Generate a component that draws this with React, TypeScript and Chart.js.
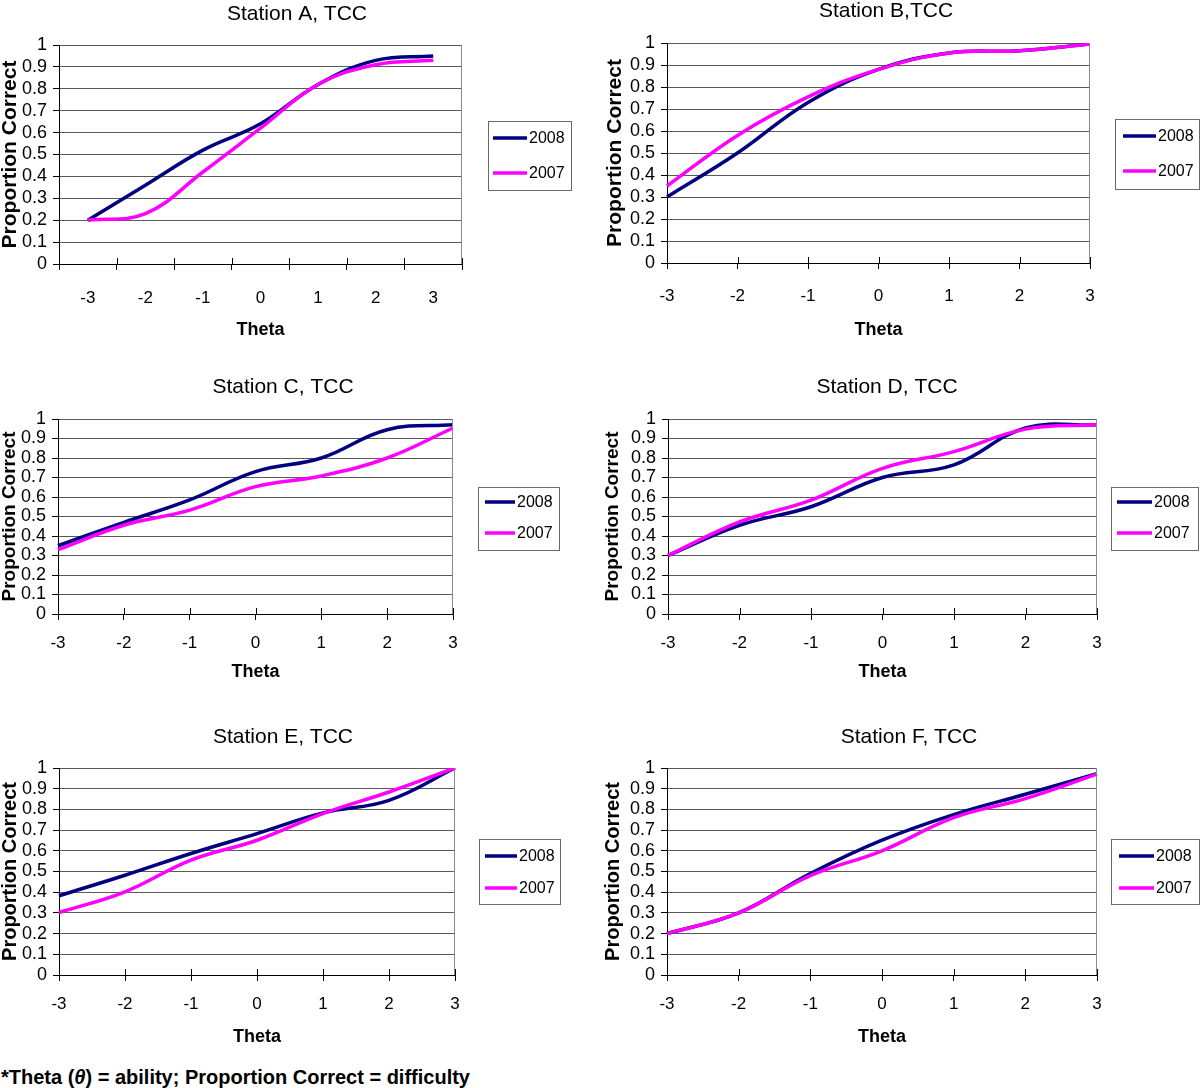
import React, { useEffect, useRef } from 'react';
import { Chart, registerables } from 'chart.js';

Chart.register(...registerables);

// ---------- data ----------
const thetaLabels = ['-3', '-2', '-1', '0', '1', '2', '3'];
const yTickValues = [0, 0.1, 0.2, 0.3, 0.4, 0.5, 0.6, 0.7, 0.8, 0.9, 1];
const seriesNames = ['2008', '2007'];
const seriesColors = ['#000080', '#FF00FF'];
const stationTitles = ['Station A, TCC', 'Station B,TCC', 'Station C, TCC', 'Station D, TCC', 'Station E, TCC', 'Station F, TCC'];

const stationA2008 = [0.2, 0.36, 0.52, 0.64, 0.82, 0.93, 0.95];
const stationA2007 = [0.2, 0.23, 0.42, 0.62, 0.82, 0.91, 0.93];
const stationB2008 = [0.3, 0.5, 0.73, 0.88, 0.955, 0.965, 0.995];
const stationB2007 = [0.35, 0.58, 0.755, 0.88, 0.955, 0.965, 0.995];
const stationC2008 = [0.35, 0.47, 0.585, 0.73, 0.8, 0.945, 0.97];
const stationC2007 = [0.33, 0.455, 0.533, 0.653, 0.708, 0.8, 0.954];
const stationD2008 = [0.3, 0.455, 0.55, 0.7, 0.765, 0.954, 0.97];
const stationD2007 = [0.3, 0.472, 0.584, 0.747, 0.833, 0.948, 0.97];
const stationE2008 = [0.383, 0.482, 0.587, 0.683, 0.783, 0.844, 1.0];
const stationE2007 = [0.302, 0.402, 0.555, 0.651, 0.78, 0.884, 1.0];
const stationF2008 = [0.2, 0.3, 0.49, 0.651, 0.775, 0.873, 0.973];
const stationF2007 = [0.2, 0.3, 0.48, 0.6, 0.76, 0.852, 0.97];

const stationSeries = [
  [stationA2008, stationA2007],
  [stationB2008, stationB2007],
  [stationC2008, stationC2007],
  [stationD2008, stationD2007],
  [stationE2008, stationE2007],
  [stationF2008, stationF2007],
];

// ---------- layout (page coordinates) ----------
const FONT = '"Liberation Sans", Arial, sans-serif';

type Layout = {
  box: number[]; // canvas x, y, w, h
  area: number[]; // chart area l, t, r, b
  offset: boolean;
  titleAt: number[];
  legend: number[]; // l, t, r, b
  rows: number[];
  line: number[];
  textX: number;
  tickPad: number;
  thetaPad: number;
  yTitlePad: number;
  yTitleSize: number;
};

const layouts: Layout[] = [
  { box: [0, 0, 600, 350], area: [59, 45, 462, 264], offset: true, titleAt: [297, 14], legend: [488, 121, 571, 190], rows: [138, 173], line: [493, 527], textX: 529, tickPad: 18, thetaPad: 11, yTitlePad: 0, yTitleSize: 21 },
  { box: [600, 0, 600, 350], area: [667, 43, 1090, 263], offset: false, titleAt: [886, 11], legend: [1115, 119, 1199, 189], rows: [136, 171], line: [1123, 1156], textX: 1158, tickPad: 17, thetaPad: 11, yTitlePad: 4.5, yTitleSize: 21 },
  { box: [0, 370, 600, 320], area: [58, 419, 453, 614], offset: false, titleAt: [283, 387], legend: [478, 487, 559, 550], rows: [502, 533], line: [485, 515], textX: 517, tickPad: 13, thetaPad: 9, yTitlePad: 0, yTitleSize: 19 },
  { box: [600, 370, 600, 320], area: [668, 419, 1097, 614], offset: false, titleAt: [887, 387], legend: [1111, 487, 1198, 550], rows: [502, 533], line: [1117, 1152], textX: 1154, tickPad: 13, thetaPad: 9, yTitlePad: 3.5, yTitleSize: 19 },
  { box: [0, 720, 600, 340], area: [59, 768, 455, 975], offset: false, titleAt: [283, 737], legend: [479, 839, 560, 904], rows: [856, 888], line: [485, 517], textX: 519, tickPad: 13, thetaPad: 14, yTitlePad: 0, yTitleSize: 20 },
  { box: [600, 720, 600, 340], area: [667, 768, 1097, 975], offset: false, titleAt: [909, 737], legend: [1111, 839, 1199, 904], rows: [856, 888], line: [1119, 1154], textX: 1156, tickPad: 13, thetaPad: 14, yTitlePad: 3.5, yTitleSize: 20 },
];

function Panel({ idx }: { idx: number }) {
  const ref = useRef<HTMLCanvasElement | null>(null);
  const lay = layouts[idx];
  const [bx, by, bw, bh] = lay.box;

  useEffect(() => {
    if (!ref.current) return;
    const L = lay.area[0] - bx;
    const T = lay.area[1] - by;
    const R = lay.area[2] - bx;
    const B = lay.area[3] - by;
    const title = stationTitles[idx];

    const decor = {
      id: 'panelDecor',
      afterDraw(chart: any) {
        const ctx = chart.ctx as CanvasRenderingContext2D;
        const a = chart.chartArea;
        ctx.save();
        // right border of plot area
        ctx.strokeStyle = '#8a8a8a';
        ctx.lineWidth = 1;
        const rx = Math.round(a.right) - 0.5;
        ctx.beginPath();
        ctx.moveTo(rx, a.top);
        ctx.lineTo(rx, a.bottom);
        ctx.stroke();
        // cross tick marks above x axis
        const xs = chart.scales.x;
        const n = thetaLabels.length;
        const positions: number[] = [];
        if (lay.offset) {
          const step = (a.right - a.left) / n;
          for (let k = 0; k <= n; k++) positions.push(a.left + k * step);
        } else {
          for (let k = 0; k < n; k++) positions.push(xs.getPixelForTick(k));
        }
        ctx.strokeStyle = '#000';
        ctx.lineWidth = 1;
        positions.forEach((px) => {
          const x = Math.round(px) + 0.5;
          ctx.beginPath();
          ctx.moveTo(x, a.bottom - 6);
          ctx.lineTo(x, a.bottom);
          ctx.stroke();
        });
        // title
        ctx.fillStyle = '#000';
        ctx.font = `21px ${FONT}`;
        ctx.textAlign = 'center';
        ctx.textBaseline = 'middle';
        ctx.fillText(title, lay.titleAt[0] - bx, lay.titleAt[1] - by);
        // legend
        const [ll, lt, lr, lb] = lay.legend;
        ctx.fillStyle = '#fff';
        ctx.fillRect(ll - bx, lt - by, lr - ll, lb - lt);
        ctx.strokeStyle = '#6a6a6a';
        ctx.lineWidth = 1;
        ctx.strokeRect(ll - bx + 0.5, lt - by + 0.5, lr - ll, lb - lt);
        ctx.font = `16px ${FONT}`;
        ctx.textAlign = 'left';
        ctx.textBaseline = 'middle';
        chart.data.datasets.forEach((ds: any, i: number) => {
          const y = lay.rows[i] - by;
          ctx.strokeStyle = ds.borderColor;
          ctx.lineWidth = 3.5;
          ctx.beginPath();
          ctx.moveTo(lay.line[0] - bx, y);
          ctx.lineTo(lay.line[1] - bx, y);
          ctx.stroke();
          ctx.fillStyle = '#000';
          ctx.fillText(ds.label, lay.textX - bx, y + 1);
        });
        ctx.restore();
      },
    };

    const chart = new Chart(ref.current, {
      type: 'line',
      data: {
        labels: thetaLabels,
        datasets: seriesNames.map((name, i) => ({
          label: name,
          data: stationSeries[idx][i],
          borderColor: seriesColors[i],
          backgroundColor: seriesColors[i],
          borderWidth: 3.5,
          pointRadius: 0,
          pointHoverRadius: 0,
          tension: 0.4,
          fill: false,
          order: i === 0 ? 1 : 0,
        })),
      },
      options: {
        responsive: false,
        animation: false,
        events: [],
        layout: { autoPadding: false, padding: { left: 0, top: T, right: bw - R, bottom: 0 } },
        plugins: {
          legend: { display: false },
          title: { display: false },
          tooltip: { enabled: false },
        },
        scales: {
          x: {
            type: 'category',
            offset: lay.offset,
            grid: {
              display: true,
              drawOnChartArea: false,
              drawTicks: true,
              tickLength: 6,
              color: '#000',
              offset: lay.offset,
            },
            border: { display: true, color: '#000', width: 1 },
            ticks: {
              font: { family: FONT, size: 17 },
              color: '#000',
              padding: lay.tickPad,
              maxRotation: 0,
              autoSkip: false,
            },
            title: {
              display: true,
              text: 'Theta',
              font: { family: FONT, size: 18, weight: 'bold', lineHeight: 1 },
              color: '#000',
              padding: { top: 0, bottom: lay.thetaPad },
            },
            afterFit: (s: any) => {
              s.height = bh - B;
              s.paddingLeft = 0;
              s.paddingRight = 0;
            },
          },
          y: {
            type: 'linear',
            min: 0,
            max: 1,
            afterBuildTicks: (s: any) => {
              s.ticks = yTickValues.map((v) => ({ value: v }));
            },
            grid: {
              display: true,
              drawOnChartArea: true,
              drawTicks: true,
              tickLength: 6,
              color: '#5a5a5a',
              tickColor: '#000',
              lineWidth: 1,
            },
            border: { display: true, color: '#000', width: 1 },
            ticks: {
              font: { family: FONT, size: 18 },
              color: '#000',
              padding: 6,
              autoSkip: false,
              callback: (v: any) => String(Number(Number(v).toFixed(1))),
            },
            title: {
              display: true,
              text: 'Proportion Correct',
              font: { family: FONT, size: lay.yTitleSize, weight: 'bold', lineHeight: 1 },
              color: '#000',
              padding: { top: lay.yTitlePad, bottom: 0 },
            },
            afterFit: (s: any) => {
              s.width = L;
              s.paddingTop = 0;
              s.paddingBottom = 0;
            },
          },
        },
      } as any,
      plugins: [decor],
    });
    return () => chart.destroy();
  }, [idx]);

  return (
    <canvas
      ref={ref}
      width={bw}
      height={bh}
      style={{ position: 'absolute', left: bx, top: by, width: bw, height: bh, display: 'block' }}
    />
  );
}

export default function App() {
  return (
    <div style={{ position: 'absolute', left: 0, top: 0, width: 1200, height: 1088, background: '#fff', overflow: 'hidden' }}>
      {layouts.map((_, i) => (
        <Panel key={i} idx={i} />
      ))}
      <div
        style={{
          position: 'absolute',
          left: 1,
          top: 1065,
          fontFamily: FONT,
          fontWeight: 'bold',
          fontSize: 20,
          lineHeight: '24px',
          color: '#000',
          whiteSpace: 'nowrap',
        }}
      >
        *Theta (<span style={{ fontStyle: 'italic' }}>θ</span>) = ability; Proportion Correct = difficulty
      </div>
    </div>
  );
}
